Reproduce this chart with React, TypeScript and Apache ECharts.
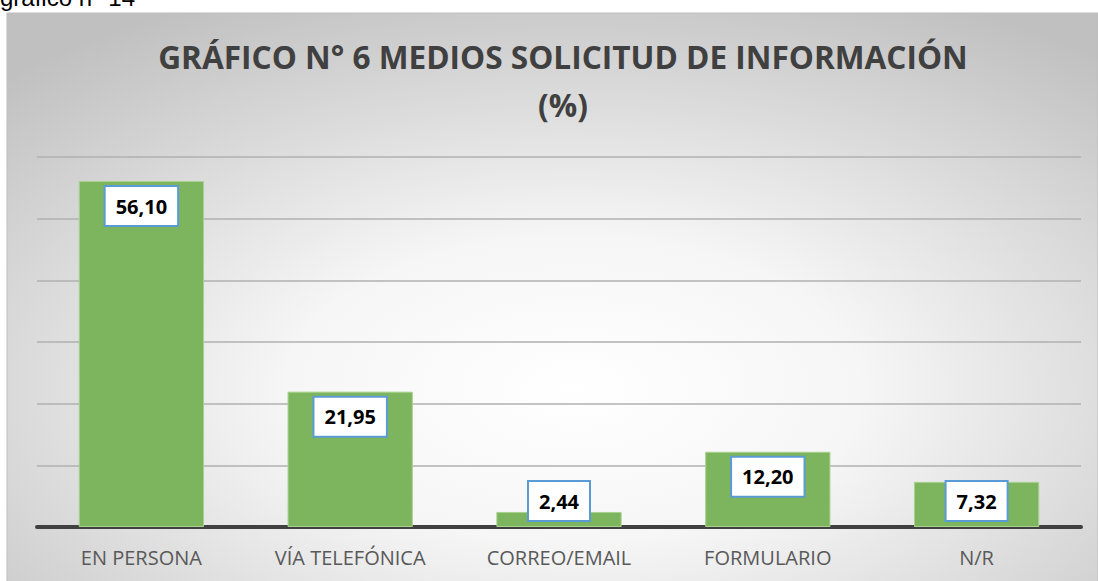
import React, { useEffect, useRef } from "react";
import * as echarts from "echarts";

const categories: string[] = ["EN PERSONA", "VÍA TELEFÓNICA", "CORREO/EMAIL", "FORMULARIO", "N/R"];
const values: number[] = [56.1, 21.95, 2.44, 12.2, 7.32];
const titleLines: string[] = ["GRÁFICO N° 6 MEDIOS SOLICITUD DE INFORMACIÓN", "(%)"];
const pageCaption = "gráfico n° 14";

export default function App() {
  const ref = useRef<HTMLDivElement>(null);
  useEffect(() => {
    if (!ref.current) return;
    const chart = echarts.init(ref.current, null, { renderer: "svg" });
    const fmt = (v: number) => v.toFixed(2).replace(".", ",");
    const labelBase = {
      show: true,
      formatter: (p: any) => fmt(p.value),
      backgroundColor: "#ffffff",
      borderColor: "#5B9BD5",
      borderWidth: 2,
      padding: [9, 10],
      fontSize: 20,
      lineHeight: 20,
      fontWeight: "bold",
      color: "#000000",
      fontFamily: "Open Sans",
    };
    const data = values.map((v) =>
      v < 10
        ? { value: v, label: { ...labelBase, position: "insideBottom", distance: 7 } }
        : { value: v, label: { ...labelBase, position: "insideTop", distance: 6 } }
    );
    chart.setOption({
      animation: false,
      backgroundColor: "#ffffff",
      graphic: [
        {
          type: "rect",
          z: -10,
          silent: true,
          shape: { x: 7, y: 13, width: 1091, height: 580 },
          style: {
            fill: new echarts.graphic.RadialGradient(0.52, 0.65, 0.75, [
              { offset: 0, color: "#ffffff" },
              { offset: 0.35, color: "#f6f6f6" },
              { offset: 1, color: "#c0c0c0" },
            ]),
            stroke: "#bdbdbd",
            lineWidth: 1,
          },
        },
        {
          type: "text",
          x: 0,
          y: 9,
          style: {
            text: pageCaption,
            font: "24px 'Liberation Sans'",
            fill: "#000000",
            verticalAlign: "bottom",
          },
        },
      ],
      title: {
        text: titleLines.join("\n"),
        left: 558,
        textAlign: "center",
        top: 27,
        textStyle: {
          fontFamily: "Open Sans",
          fontWeight: "bold",
          fontSize: 31.6,
          lineHeight: 48,
          color: "#404040",
        },
      },
      grid: { left: 37, right: 17, top: 157, bottom: 54 },
      xAxis: {
        type: "category",
        data: categories,
        axisLine: { lineStyle: { color: "#404040", width: 4 } },
        axisTick: { show: false },
        axisLabel: {
          color: "#595959",
          fontSize: 20,
          fontFamily: "Open Sans",
          margin: 20,
        },
      },
      yAxis: {
        type: "value",
        min: 0,
        max: 60,
        interval: 10,
        axisLabel: { show: false },
        axisLine: { show: false },
        axisTick: { show: false },
        splitLine: { lineStyle: { color: "#b0b0b0", width: 1.5 } },
      },
      series: [
        {
          type: "bar",
          data,
          barCategoryGap: "40%",
          itemStyle: { color: "#7DB55E", borderColor: "#A9D18E", borderWidth: 1 },
        },
      ],
    });
    return () => chart.dispose();
  }, []);
  return (
    <div
      ref={ref}
      style={{ position: "fixed", left: 0, top: 0, width: 1098, height: 581 }}
    />
  );
}
